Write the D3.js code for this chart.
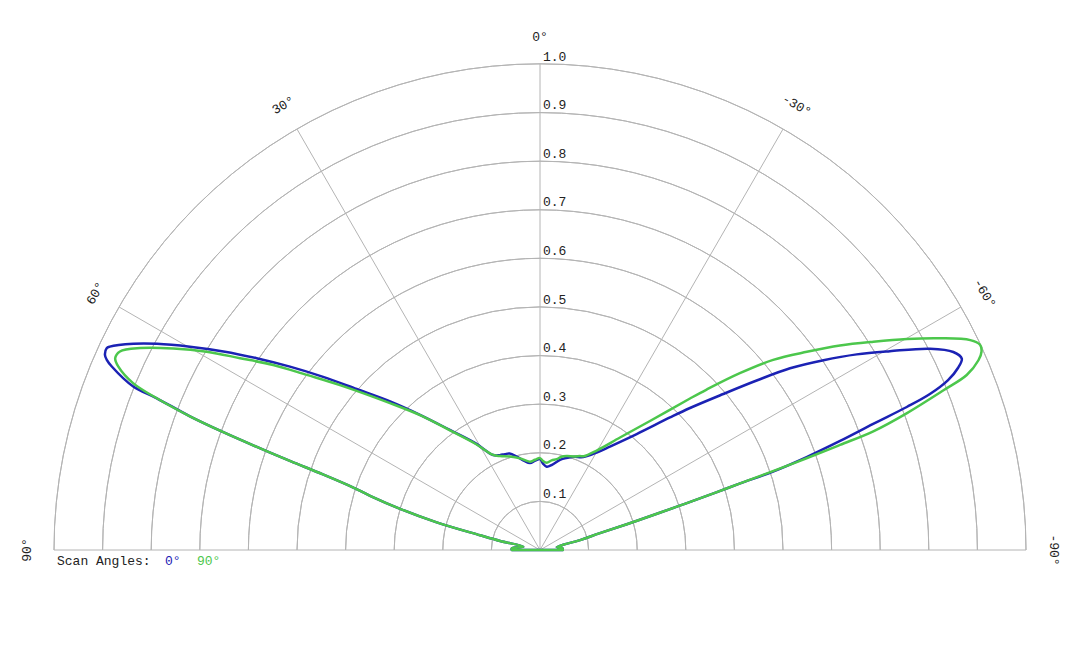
<!DOCTYPE html>
<html>
<head>
<meta charset="utf-8">
<script src="https://cdn.jsdelivr.net/npm/d3@7"></script>
<style>
  body { margin: 0; background: #fff; }
  text { font-family: "Courier New", Courier, "Liberation Mono", monospace; font-size: 13px; fill: #222; }
</style>
</head>
<body>
<div id="chart"></div>
<script>
var svgWidth = 1080;
var svgHeight = 648;

// centre of the half circle and radius of the 1.0 ring
var cx = 540;
var cy = 550;
var radius = 486;

// grid
var ringValues = [0.1, 0.2, 0.3, 0.4, 0.5, 0.6, 0.7, 0.8, 0.9, 1.0];
var ringLabels = ["0.1", "0.2", "0.3", "0.4", "0.5", "0.6", "0.7", "0.8", "0.9", "1.0"];
var spokeAngles = [-90, -60, -30, 0, 30, 60, 90];
var angleLabels = ["-90°", "-60°", "-30°", "0°", "30°", "60°", "90°"];

// legend
var seriesNames = ["0°", "90°"];
var seriesColors = ["#1b22b4", "#4cc74c"];

// scan angle 0° (blue), path order from -90° to 90°
var blueAngles = [-90, -85, -80, -76.1, -74.3, -73.2, -72.4, -71.9, -71.6, -71.4, -70.78, -70.03, -69.27,
  -68.7, -68.2, -67.4, -66.47, -65.6, -64.4, -62.7, -60.4, -58.3, -56.2, -54.0, -51.97, -49.6, -46.57,
  -44.45, -39.82, -34.07, -30.18, -24.96, -20.0, -16.0, -12.5, -8.0, -4.6, -2.0, 0, 3.0, 6.6, 10.0, 14.0,
  17.5, 20.1, 23.0, 26.3, 31.3, 36.9, 41.6, 45.25, 48.72, 51.4, 53.75, 55.9, 57.9, 59.85, 61.7, 63.1,
  64.7, 65.04, 65.85, 66.3, 66.8, 68.1, 68.4, 69.1, 69.6, 70.0, 70.4, 70.8, 71.5, 72.3, 73.6, 75.0,
  76.2, 77.3, 78.8, 86.6, 90];
var blueR = [0.047, 0.046, 0.035, 0.085, 0.128, 0.21, 0.30, 0.38, 0.434, 0.506, 0.581, 0.657, 0.733,
  0.81, 0.864, 0.9095, 0.938, 0.953, 0.943, 0.903, 0.828, 0.766, 0.702, 0.636, 0.566, 0.4953, 0.425,
  0.382, 0.3107, 0.257, 0.232, 0.211, 0.204, 0.197, 0.19, 0.177, 0.172, 0.178, 0.187, 0.184, 0.18, 0.186, 0.198,
  0.208, 0.21, 0.212, 0.218, 0.258, 0.309, 0.372, 0.4343, 0.502, 0.571, 0.638, 0.704, 0.769, 0.833, 0.895, 0.938,
  0.979, 0.9835, 0.981, 0.9735, 0.9586, 0.902, 0.848, 0.771, 0.694, 0.62, 0.545, 0.473, 0.405, 0.367, 0.30, 0.22,
  0.127, 0.084, 0.035, 0.058, 0.058];

// scan angle 90° (green)
var greenAngles = [-90, -85, -80, -76.1, -74.3, -73.2, -72.4, -71.9, -71.6, -71.3, -71.0, -70.7, -70.4,
  -69.55, -68.4, -67.7, -66.6, -65.8, -65.0, -64.0, -62.1, -60.1, -58.0, -55.7, -53.4, -50.8, -48.5,
  -46.08, -44.71, -40.45, -35.42, -29.67, -25.0, -23.0, -20.0, -15.9, -13.0, -10.4, -7.4, -4.4, -2.0, 0,
  3.2, 6.5, 12.3, 17.8, 23.0, 26.2, 31.2, 36.7, 41.4, 45.6, 50.5, 53.1, 55.25, 57.4, 59.25, 61.2, 63.2,
  64.7, 65.7, 66.5, 67.7, 68.4, 69.1, 69.6, 70.0, 70.4, 70.8, 71.5, 72.3, 73.6, 75.0, 76.2, 77.3, 78.8,
  86.6, 90];
var greenR = [0.047, 0.046, 0.035, 0.085, 0.128, 0.21, 0.30, 0.38, 0.434, 0.506, 0.58, 0.654, 0.728,
  0.805, 0.893, 0.949, 0.983, 0.996, 0.999, 0.985, 0.931, 0.871, 0.809, 0.747, 0.684, 0.619, 0.549,
  0.476, 0.4387, 0.3488, 0.284, 0.2356, 0.213, 0.21, 0.205, 0.201, 0.197, 0.19, 0.186, 0.18, 0.183, 0.189,
  0.186, 0.183, 0.193, 0.202, 0.21, 0.218, 0.255, 0.305, 0.368, 0.432, 0.5335, 0.60, 0.668, 0.7325, 0.798, 0.861, 0.922,
  0.956, 0.959, 0.946, 0.905, 0.848, 0.771, 0.694, 0.62, 0.545, 0.473, 0.405, 0.367, 0.30, 0.22, 0.127, 0.084, 0.035,
  0.058, 0.058];

var svg = d3.select("#chart")
  .append("svg")
  .attr("width", svgWidth)
  .attr("height", svgHeight);

var chartGroup = svg.append("g")
  .attr("transform", `translate(${cx}, ${cy})`);

// radius and angle scales (positive angles to the left)
var rScale = d3.scaleLinear().domain([0, 1]).range([0, radius]);
var angleScale = d3.scaleLinear().domain([-90, 90]).range([Math.PI / 2, -Math.PI / 2]);

// rings
var ringArc = d3.arc()
  .innerRadius(d => rScale(d))
  .outerRadius(d => rScale(d))
  .startAngle(-Math.PI / 2)
  .endAngle(Math.PI / 2);

chartGroup.selectAll(".ring")
  .data(ringValues)
  .enter()
  .append("path")
  .attr("class", "ring")
  .attr("d", ringArc)
  .attr("fill", "none")
  .attr("stroke", "#b4b4b4")
  .attr("stroke-width", 1);

// spokes
chartGroup.selectAll(".spoke")
  .data(spokeAngles)
  .enter()
  .append("line")
  .attr("class", "spoke")
  .attr("x1", 0)
  .attr("y1", 0)
  .attr("x2", d => rScale(1) * Math.sin(angleScale(d)))
  .attr("y2", d => -rScale(1) * Math.cos(angleScale(d)))
  .attr("stroke", "#b4b4b4")
  .attr("stroke-width", 1);

// ring labels
chartGroup.selectAll(".ring-label")
  .data(ringValues)
  .enter()
  .append("text")
  .attr("class", "ring-label")
  .attr("x", 3)
  .attr("y", d => -rScale(d) - 3.5)
  .text((d, i) => ringLabels[i]);

// angle labels
var labelRadius = 513;
chartGroup.selectAll(".angle-label")
  .data(spokeAngles)
  .enter()
  .append("text")
  .attr("class", "angle-label")
  .attr("text-anchor", "middle")
  .attr("dominant-baseline", "central")
  .attr("transform", d => {
    var a = angleScale(d);
    var x = labelRadius * Math.sin(a);
    var y = -labelRadius * Math.cos(a);
    return `translate(${x}, ${y}) rotate(${-d})`;
  })
  .text((d, i) => angleLabels[i]);

// pattern curves
var radialLine = d3.lineRadial()
  .angle(d => angleScale(d[0]))
  .radius(d => rScale(d[1]))
  .curve(d3.curveCatmullRom.alpha(0.5));

var blueData = blueAngles.map((a, i) => [a, blueR[i]]);
var greenData = greenAngles.map((a, i) => [a, greenR[i]]);

chartGroup.append("path")
  .attr("d", radialLine(blueData) + "Z")
  .attr("fill", "none")
  .attr("stroke", seriesColors[0])
  .attr("stroke-width", 2.5)
  .attr("stroke-linejoin", "round");

chartGroup.append("path")
  .attr("d", radialLine(greenData) + "Z")
  .attr("fill", "none")
  .attr("stroke", seriesColors[1])
  .attr("stroke-width", 2.5)
  .attr("stroke-linejoin", "round");

// legend
var legend = svg.append("text")
  .attr("x", 57)
  .attr("y", 565);
legend.append("tspan").text("Scan Angles:");
legend.append("tspan").attr("x", 165).style("fill", seriesColors[0]).text(seriesNames[0]);
legend.append("tspan").attr("x", 197).style("fill", seriesColors[1]).text(seriesNames[1]);
</script>
</body>
</html>
